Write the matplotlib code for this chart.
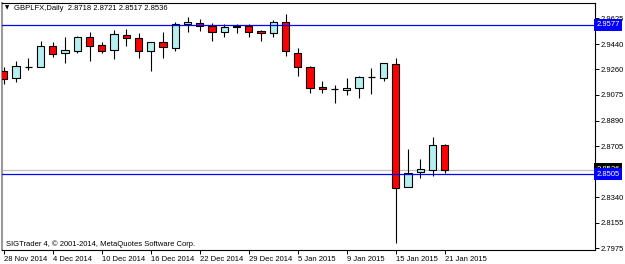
import matplotlib
matplotlib.use("Agg")
import matplotlib.pyplot as plt
from matplotlib.patches import Rectangle

FONT = "Liberation Sans"
FS = 5.5

# ---- data ----
opens  = [2.9246, 2.9194, 2.9277, 2.9273, 2.9426, 2.9374, 2.9392, 2.9489, 2.9433, 2.9397,
          2.9507, 2.9486, 2.9390, 2.9453, 2.9410, 2.9582, 2.9593, 2.9570, 2.9524, 2.9570,
          2.9570, 2.9534, 2.9517, 2.9596, 2.9374, 2.9277, 2.9129, 2.9115, 2.9110, 2.9122,
          2.9205, 2.9198, 2.9297, 2.8411, 2.8519, 2.8535, 2.8718]
highs  = [2.9277, 2.9320, 2.9338, 2.9464, 2.9457, 2.9489, 2.9498, 2.9524, 2.9457, 2.9541,
          2.9546, 2.9517, 2.9455, 2.9524, 2.9601, 2.9632, 2.9620, 2.9589, 2.9584, 2.9584,
          2.9584, 2.9541, 2.9613, 2.9656, 2.9410, 2.9282, 2.9175, 2.9146, 2.9194, 2.9210,
          2.9266, 2.9306, 2.9338, 2.8686, 2.8614, 2.8770, 2.8721]
lows   = [2.9153, 2.9170, 2.9254, 2.9272, 2.9349, 2.9306, 2.9378, 2.9318, 2.9374, 2.9333,
          2.9428, 2.9342, 2.9246, 2.9342, 2.9392, 2.9529, 2.9534, 2.9464, 2.9489, 2.9517,
          2.9489, 2.9464, 2.9489, 2.9356, 2.9213, 2.9086, 2.9091, 2.9019, 2.9074, 2.9050,
          2.9079, 2.9177, 2.8009, 2.8411, 2.8476, 2.8494, 2.8517]
closes = [2.9187, 2.9282, 2.9276, 2.9426, 2.9369, 2.9397, 2.9493, 2.9428, 2.9392, 2.9510,
          2.9483, 2.9390, 2.9453, 2.9417, 2.9582, 2.9596, 2.9570, 2.9524, 2.9560, 2.9560,
          2.9524, 2.9517, 2.9596, 2.9392, 2.9273, 2.9122, 2.9115, 2.9117, 2.9122, 2.9205,
          2.9207, 2.9302, 2.8406, 2.8516, 2.8540, 2.8713, 2.8536]

date_ticks = [0, 4, 8, 12, 16, 20, 24, 28, 32, 36]
date_labels = ["28 Nov 2014", "4 Dec 2014", "10 Dec 2014", "16 Dec 2014", "22 Dec 2014",
               "29 Dec 2014", "5 Jan 2015", "9 Jan 2015", "15 Jan 2015", "21 Jan 2015"]
price_ticks = [2.9625, 2.9440, 2.9260, 2.9075, 2.8890, 2.8705, 2.8340, 2.8155, 2.7975]
price_tick_labels = ["2.9625", "2.9440", "2.9260", "2.9075", "2.8890", "2.8705",
                     "2.8340", "2.8155", "2.7975"]
upper_line = 2.9577
lower_line = 2.8505
bid_price = 2.8536
title = "GBPLFX,Daily  2.8718 2.8721 2.8517 2.8536"
footer = "SIGTrader 4, \u00a9 2001-2014, MetaQuotes Software Corp."

UP = "#B4F0F0"
DOWN = "#FF0000"

fig = plt.figure(figsize=(6.25, 2.64), dpi=100)
ax = fig.add_axes([2 / 625, 14 / 264, 593 / 625, 247 / 264])

half = 0.3
for i, (o, h, l, c) in enumerate(zip(opens, highs, lows, closes)):
    ax.vlines(i, l, h, color="black", lw=0.8, zorder=3)
    if abs(c - o) < 0.0003:
        ax.hlines((o + c) / 2, i - half, i + half, color="black", lw=0.9, zorder=4)
    else:
        col = DOWN if c < o else UP
        ax.add_patch(Rectangle((i - half, min(o, c)), 2 * half, abs(c - o),
                               facecolor=col, edgecolor="black", lw=0.8, zorder=4))

ax.axhline(bid_price, color="#C0C0C0", lw=0.9, zorder=1)
ax.axhline(upper_line, color="#0000FF", lw=0.9, zorder=5)
ax.axhline(lower_line, color="#0000FF", lw=0.9, zorder=5)

ax.set_xlim(-0.147, 48.26)
ax.set_ylim(2.7961, 2.9735)

ax.yaxis.tick_right()
ax.set_yticks(price_ticks)
ax.set_yticklabels(price_tick_labels)
ax.set_xticks(date_ticks)
ax.set_xticklabels(date_labels, ha="left")
ax.tick_params(axis="both", direction="out", length=3, width=0.7, colors="black",
               labelsize=FS, pad=1)
for lab in ax.get_xticklabels() + ax.get_yticklabels():
    lab.set_fontfamily(FONT)

for s in ["top", "right", "bottom"]:
    ax.spines[s].set_color("black")
    ax.spines[s].set_linewidth(0.8)
ax.spines["left"].set_color("#9A9A9A")
ax.spines["left"].set_linewidth(1.5)

tr = ax.get_yaxis_transform()
ax.text(1.002, bid_price + 0.0006, f"{bid_price:.4f}", transform=tr, ha="left", va="center",
        color="white", fontsize=FS, family=FONT, clip_on=False, zorder=10,
        bbox=dict(boxstyle="square,pad=0.3", fc="black", ec="none"))
ax.text(1.002, lower_line, f"{lower_line:.4f}", transform=tr, ha="left", va="center",
        color="white", fontsize=FS, family=FONT, clip_on=False, zorder=11,
        bbox=dict(boxstyle="square,pad=0.3", fc="#0000FF", ec="none"))
ax.text(1.002, upper_line, f"{upper_line:.4f}", transform=tr, ha="left", va="center",
        color="white", fontsize=FS, family=FONT, clip_on=False, zorder=11,
        bbox=dict(boxstyle="square,pad=0.3", fc="#0000FF", ec="none"))

fig.text(4.5 / 625, 1 - 8 / 264, "\u25bc", fontsize=4, family="DejaVu Sans",
         ha="left", va="center", color="black")
fig.text(14 / 625, 1 - 8 / 264, title, fontsize=FS, family=FONT,
         ha="left", va="center", color="black")
fig.text(6 / 625, 1 - 244 / 264, footer, fontsize=FS, family=FONT,
         ha="left", va="center", color="black")

fig.savefig("out.png", dpi=100)
